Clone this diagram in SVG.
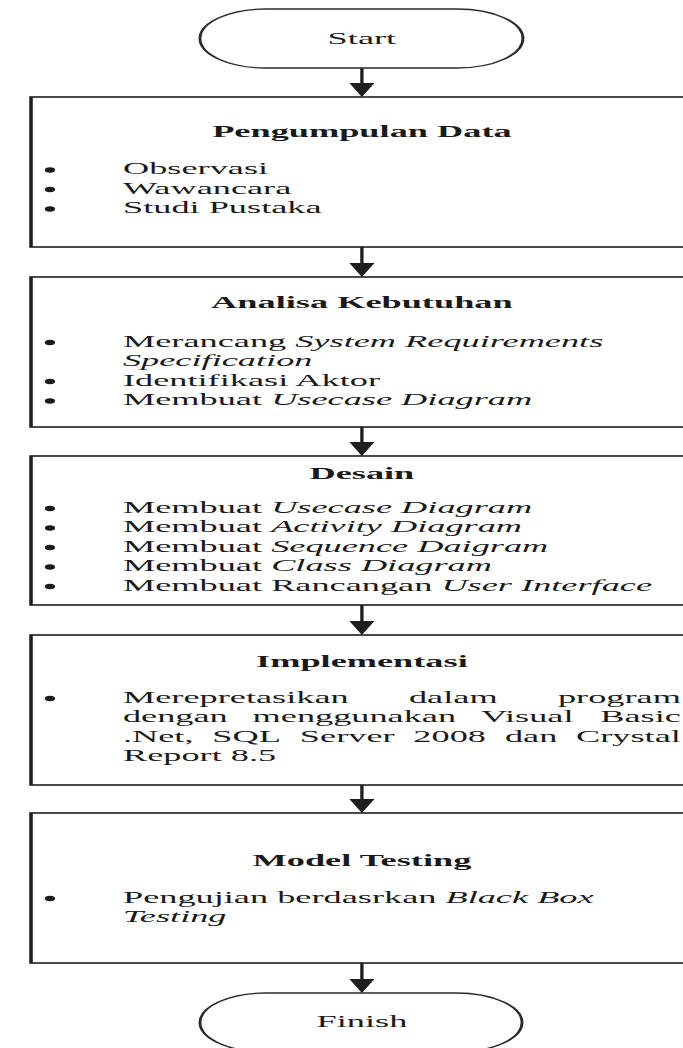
<svg xmlns="http://www.w3.org/2000/svg" width="683" height="1048" viewBox="0 0 683 1048">
  <style>
    .box{fill:#fff;stroke:#1e1e1e;stroke-width:1.6}
    .term{fill:#fff;stroke:#2a2a2a;stroke-width:1.3}
    text{font-family:"Liberation Serif","Times New Roman",serif;font-size:16.5px;fill:#1a1a1a}
    .title{font-weight:bold;text-anchor:middle}
    .mid{text-anchor:middle}
    .it{font-style:italic}
    .end{text-anchor:end}
    .bul{fill:#1a1a1a}
    .wire{stroke:#1e1e1e;stroke-width:1.5;fill:none;marker-end:url(#arrow)}
  </style>
  <defs>
    <marker id="arrow" viewBox="0 0 14 11.4" refX="6" refY="5.7" markerWidth="14" markerHeight="11.4" markerUnits="userSpaceOnUse" orient="auto">
      <path d="M0,0 L14,5.7 L0,11.4 Z" fill="#1e1e1e"/>
    </marker>
  </defs>
  <rect width="683" height="1048" fill="#fff"/>

  <!-- whole chart is drawn in a horizontally stretched frame (x scaled by 2.2) -->
  <g transform="scale(2.2 1)">
    <g id="connectors">
      <line class="wire" x1="164.5" y1="68" x2="164.5" y2="89"/>
      <line class="wire" x1="164.5" y1="247" x2="164.5" y2="269"/>
      <line class="wire" x1="164.5" y1="427" x2="164.5" y2="448"/>
      <line class="wire" x1="164.5" y1="605" x2="164.5" y2="627"/>
      <line class="wire" x1="164.5" y1="785" x2="164.5" y2="805"/>
      <line class="wire" x1="164.5" y1="963" x2="164.5" y2="985"/>
    </g>

    <g id="start">
      <rect class="term" x="90.9" y="9" width="146.8" height="59" rx="30" ry="29.5"/>
      <text class="mid" x="164.5" y="44">Start</text>
    </g>

    <g id="pengumpulan-data">
      <rect class="box" x="14.1" y="97" width="301" height="150"/>
      <text class="title" x="164.5" y="137">Pengumpulan Data</text>
      <ellipse class="bul" cx="22.7" cy="170" rx="2.3" ry="2.8"/>
      <ellipse class="bul" cx="22.7" cy="189.5" rx="2.3" ry="2.8"/>
      <ellipse class="bul" cx="22.7" cy="209" rx="2.3" ry="2.8"/>
      <text x="55.9" y="174.5">Observasi</text>
      <text x="55.9" y="194">Wawancara</text>
      <text x="55.9" y="213.5">Studi Pustaka</text>
    </g>

    <g id="analisa-kebutuhan">
      <rect class="box" x="14.1" y="277" width="301" height="150"/>
      <text class="title" x="164.5" y="308">Analisa Kebutuhan</text>
      <ellipse class="bul" cx="22.7" cy="342.5" rx="2.3" ry="2.8"/>
      <ellipse class="bul" cx="22.7" cy="381.5" rx="2.3" ry="2.8"/>
      <ellipse class="bul" cx="22.7" cy="401" rx="2.3" ry="2.8"/>
      <text x="55.9" y="347">Merancang <tspan class="it">System Requirements</tspan></text>
      <text x="55.9" y="366.5" class="it">Specification</text>
      <text x="55.9" y="386">Identifikasi Aktor</text>
      <text x="55.9" y="405.5">Membuat <tspan class="it">Usecase Diagram</tspan></text>
    </g>

    <g id="desain">
      <rect class="box" x="14.1" y="456" width="301" height="149"/>
      <text class="title" x="164.5" y="479">Desain</text>
      <ellipse class="bul" cx="22.7" cy="508.5" rx="2.3" ry="2.8"/>
      <ellipse class="bul" cx="22.7" cy="528" rx="2.3" ry="2.8"/>
      <ellipse class="bul" cx="22.7" cy="547.5" rx="2.3" ry="2.8"/>
      <ellipse class="bul" cx="22.7" cy="567" rx="2.3" ry="2.8"/>
      <ellipse class="bul" cx="22.7" cy="586.5" rx="2.3" ry="2.8"/>
      <text x="55.9" y="513">Membuat <tspan class="it">Usecase Diagram</tspan></text>
      <text x="55.9" y="532.5">Membuat <tspan class="it">Activity Diagram</tspan></text>
      <text x="55.9" y="552">Membuat <tspan class="it">Sequence Daigram</tspan></text>
      <text x="55.9" y="571.5">Membuat <tspan class="it">Class Diagram</tspan></text>
      <text x="55.9" y="591">Membuat Rancangan <tspan class="it">User Interface</tspan></text>
    </g>

    <g id="implementasi">
      <rect class="box" x="14.1" y="635" width="301" height="150"/>
      <text class="title" x="164.5" y="667">Implementasi</text>
      <ellipse class="bul" cx="22.7" cy="698.5" rx="2.3" ry="2.8"/>
      <!-- justified paragraph: words placed one by one -->
      <text y="703"><tspan x="55.9">Merepretasikan</tspan><tspan x="185.9">dalam</tspan><tspan x="309.5" class="end">program</tspan></text>
      <text y="722.5"><tspan x="55.9">dengan</tspan><tspan x="114.8">menggunakan</tspan><tspan x="218.6">Visual</tspan><tspan x="309.5" class="end">Basic</tspan></text>
      <text y="742"><tspan x="55.9">.Net,</tspan><tspan x="96.5">SQL</tspan><tspan x="136.3">Server</tspan><tspan x="187.9">2008</tspan><tspan x="229.5">dan</tspan><tspan x="309.5" class="end">Crystal</tspan></text>
      <text x="55.9" y="761.5">Report 8.5</text>
    </g>

    <g id="model-testing">
      <rect class="box" x="14.1" y="813" width="301" height="150"/>
      <text class="title" x="164.5" y="866">Model Testing</text>
      <ellipse class="bul" cx="22.7" cy="898.5" rx="2.3" ry="2.8"/>
      <text x="55.9" y="903">Pengujian berdasrkan <tspan class="it">Black Box</tspan></text>
      <text x="55.9" y="922.5" class="it">Testing</text>
    </g>

    <g id="finish">
      <rect class="term" x="90.9" y="993" width="146.4" height="59" rx="30" ry="29.5"/>
      <text class="mid" x="164.5" y="1027">Finish</text>
    </g>
  </g>
</svg>
